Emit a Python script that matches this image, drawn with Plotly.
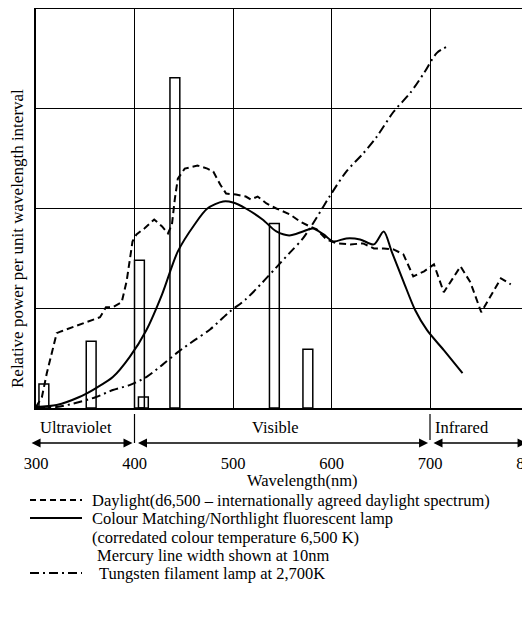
import plotly.graph_objects as go

# ---- data ----
daylight_nm = [300, 306, 311, 316, 321, 326, 338, 351, 365, 371, 378, 387, 392, 395, 398, 402, 410, 420, 428, 434,
               438, 441, 444, 451, 464, 474, 480, 487, 493, 503, 513, 518, 525, 534, 544, 558, 568, 578, 585, 595,
               605, 619, 632, 643, 653, 663, 673, 683, 694, 704, 714, 731, 741, 752, 763, 772, 782]
daylight_val = [0.01, 0.11, 0.35, 0.55, 0.75, 0.77, 0.81, 0.86, 0.91, 1.01, 1.01, 1.06, 1.27, 1.47, 1.67, 1.74, 1.80, 1.89, 1.82, 1.75,
                1.84, 2.10, 2.30, 2.40, 2.43, 2.40, 2.37, 2.24, 2.15, 2.14, 2.12, 2.09, 2.12, 2.05, 2.00, 1.94, 1.87, 1.82, 1.79, 1.69,
                1.65, 1.64, 1.65, 1.60, 1.60, 1.59, 1.54, 1.32, 1.37, 1.44, 1.16, 1.42, 1.26, 0.96, 1.14, 1.30, 1.24]

fluor_nm = [300, 321, 344, 361, 378, 395, 412, 428, 444, 461, 474, 490, 500, 513, 530, 544, 557, 571, 581, 592,
            602, 615, 629, 643, 653, 661, 673, 685, 697, 714, 733]
fluor_val = [0.01, 0.03, 0.11, 0.20, 0.31, 0.51, 0.78, 1.14, 1.57, 1.84, 2.00, 2.07, 2.06, 2.00, 1.89, 1.77, 1.73, 1.77, 1.80, 1.74,
             1.67, 1.70, 1.69, 1.64, 1.77, 1.57, 1.27, 0.98, 0.78, 0.58, 0.35]

tung_nm = [300, 321, 344, 361, 378, 395, 412, 428, 444, 461, 477, 496, 513, 530, 544, 558, 571, 585, 598, 615,
           632, 646, 663, 680, 694, 707, 719]
tung_val = [0.01, 0.01, 0.06, 0.11, 0.18, 0.23, 0.31, 0.43, 0.56, 0.68, 0.79, 0.96, 1.09, 1.26, 1.41, 1.56, 1.70, 1.91, 2.12, 2.37,
            2.55, 2.72, 2.97, 3.16, 3.36, 3.56, 3.63]

mercury_nm = [308, 356, 405, 409, 441, 542, 576]
mercury_val = [0.24, 0.67, 1.48, 0.11, 3.31, 1.85, 0.59]
mercury_width_nm = 10

tick_vals = [300, 400, 500, 600, 700, 800]
tick_text = ["300", "400", "500", "600", "700", "800"]

region_labels = ["Ultraviolet", "Visible", "Infrared"]
legend_texts = [
    "Daylight(d6,500 \u2013 internationally agreed daylight spectrum)",
    "Colour Matching/Northlight fluorescent lamp",
    "(corredated colour temperature 6,500 K)",
    "Mercury line width shown at 10nm",
    "Tungsten filament lamp at 2,700K",
]
y_title = "Relative power per unit wavelength interval"
x_title = "Wavelength(nm)"

FONT = "Liberation Serif, Times New Roman, serif"
# the page body adds an 8px offset, so the figure is 8px smaller than the window
OFF = 8
W, H = 530 - OFF, 618 - OFF
ML, MR, MT, MB = 28, 1, 1, 210
PW = W - ML - MR
PH = H - MT - MB
BOTTOM_ABS = H - MB + OFF  # window y of the x axis


def px_x(p):
    """window x pixel -> paper x"""
    return (p - OFF - ML) / PW


def px_y(p):
    """window y pixel -> paper y"""
    return (BOTTOM_ABS - p) / PH


fig = go.Figure()

fig.add_trace(go.Bar(
    x=mercury_nm, y=mercury_val, width=mercury_width_nm,
    marker=dict(color="rgba(0,0,0,0)", line=dict(color="black", width=1.5)),
    showlegend=False, hoverinfo="skip"))

fig.add_trace(go.Scatter(
    x=daylight_nm, y=daylight_val, mode="lines",
    line=dict(color="black", width=2, dash="7px,4px"), showlegend=False))

fig.add_trace(go.Scatter(
    x=fluor_nm, y=fluor_val, mode="lines", line_shape="spline",
    line=dict(color="black", width=2, smoothing=0.8), showlegend=False))

fig.add_trace(go.Scatter(
    x=tung_nm, y=tung_val, mode="lines", line_shape="spline",
    line=dict(color="black", width=2, dash="9px,4px,2px,4px", smoothing=0.8), showlegend=False))

shapes = []
annotations = []

# region separators
for nm, bottom in [(400, 443), (700, 440)]:
    shapes.append(dict(type="line", xref="x", yref="paper", x0=nm, x1=nm,
                       y0=px_y(414), y1=px_y(bottom), line=dict(color="black", width=1.2)))

# region double arrows
arrow_y = px_y(443)
for a, b in [(294, 398), (402, 698), (702, 798)]:
    annotations.append(dict(x=b, y=arrow_y, xref="x", yref="paper",
                            ax=a, ay=0, axref="x", ayref="pixel",
                            text="", showarrow=True, arrowhead=2, arrowside="end+start",
                            arrowsize=1.2, arrowwidth=1.5, arrowcolor="black",
                            standoff=0, startstandoff=0))

for lab, cx in zip(region_labels, [76, 275, 462]):
    annotations.append(dict(x=px_x(cx), y=px_y(427), xref="paper", yref="paper",
                            text=lab, showarrow=False, xanchor="center", yanchor="middle",
                            font=dict(family=FONT, size=16.5, color="black")))

annotations.append(dict(x=px_x(302), y=px_y(480), xref="paper", yref="paper",
                        text=x_title, showarrow=False, xanchor="center", yanchor="middle",
                        font=dict(family=FONT, size=16.5, color="black")))

annotations.append(dict(x=px_x(17), y=px_y(239), xref="paper", yref="paper",
                        text=y_title, showarrow=False, textangle=-90,
                        xanchor="center", yanchor="middle", borderpad=0,
                        font=dict(family=FONT, size=17, color="black")))

# legend
legend_rows = [500, 518, 537, 555, 573]
legend_x = [90, 90, 90, 95, 97]
for txt, py, lx in zip(legend_texts, legend_rows, legend_x):
    annotations.append(dict(x=px_x(lx), y=px_y(py), xref="paper", yref="paper",
                            text=txt, showarrow=False, xanchor="left", yanchor="middle",
                            font=dict(family=FONT, size=16.5, color="black")))

for py, dash in [(500, "6px,4px"), (518, "solid"), (573, "9px,4px,2px,4px")]:
    shapes.append(dict(type="line", xref="paper", yref="paper",
                       x0=px_x(30), x1=px_x(82), y0=px_y(py), y1=px_y(py),
                       line=dict(color="black", width=2, dash=dash)))

fig.update_layout(
    width=W, height=H,
    margin=dict(l=ML, r=MR, t=MT, b=MB, autoexpand=False),
    paper_bgcolor="white", plot_bgcolor="white",
    showlegend=False,
    shapes=shapes, annotations=annotations,
    font=dict(family=FONT, color="black"),
    xaxis=dict(range=[300, 800.5], tickvals=tick_vals, ticktext=tick_text,
               automargin=False, ticklabeloverflow="allow",
               showgrid=True, gridcolor="black", gridwidth=1.3,
               showline=True, linecolor="black", linewidth=2, mirror=True,
               zeroline=False, ticks="", ticklabelstandoff=39,
               tickfont=dict(family=FONT, size=16.5, color="black")),
    yaxis=dict(range=[0, 4], dtick=1, showticklabels=False, automargin=False,
               showgrid=True, gridcolor="black", gridwidth=1.3,
               showline=True, linecolor="black", linewidth=2, mirror=True,
               zeroline=False, ticks=""),
)

fig.write_html("out.html")
